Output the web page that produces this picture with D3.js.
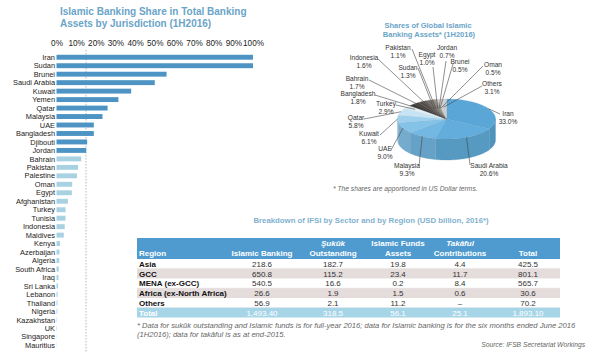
<!DOCTYPE html>
<html><head><meta charset="utf-8">
<script src="https://cdn.jsdelivr.net/npm/d3@7"></script>
<style>html,body{margin:0;padding:0;background:#fff}svg{display:block;font-family:"Liberation Sans",Arial,sans-serif}</style>
</head><body><svg id="c" width="598" height="355"></svg>
<script>
// ---------- data ----------
const barCountries = ["Iran","Sudan","Brunei","Saudi Arabia","Kuwait","Yemen","Qatar","Malaysia","UAE","Bangladesh","Djibouti","Jordan","Bahrain","Pakistan","Palestine","Oman","Egypt","Afghanistan","Turkey","Tunisia","Indonesia","Maldives","Kenya","Azerbaijan","Algeria","South Africa","Iraq","Sri Lanka","Lebanon","Thailand","Nigeria","Kazakhstan","UK","Singapore","Mauritius"];
const barShares = [100,100,56,50,38,31.5,26,23.4,19,19,15.6,15.1,12.6,11,10.4,8,7.8,5.8,4.6,4.6,4.2,3.7,1.8,1.5,1.4,1.2,1.0,0.8,0.6,0.5,0.4,0.2,0.2,0.1,0.1];
const barTicks = [0,10,20,30,40,50,60,70,80,90,100];
const threshold = 15;

const pieLabels = ["Iran","Saudi Arabia","Malaysia","UAE","Kuwait","Qatar","Turkey","Bangladesh","Bahrain","Indonesia","Sudan","Pakistan","Egypt","Jordan","Brunei","Oman","Others"];
const pieShares = [33.0,20.6,9.3,9.0,6.1,5.8,2.9,1.8,1.7,1.6,1.3,1.1,1.0,0.7,0.5,0.5,3.1];

const tableRegions = ["Asia","GCC","MENA (ex-GCC)","Africa (ex-North Africa)","Others","Total"];
const colBanking = ["218.6","650.8","540.5","26.6","56.9","1,493.40"];
const colSukuk = ["182.7","115.2","16.6","1.9","2.1","318.5"];
const colFunds = ["19.8","23.4","0.2","1.5","11.2","56.1"];
const colTakaful = ["4.4","11.7","8.4","0.6","–","25.1"];
const colTotal = ["425.5","801.1","565.7","30.6","70.2","1,893.10"];

// ---------- layout ----------
const svg = d3.select("#c");
const titleBlue = "#6aa4c8";

// ===== Bar chart =====
svg.append("text").attr("x",60).attr("y",15).attr("font-size",10).attr("font-weight","bold").attr("fill",titleBlue).text("Islamic Banking Share in Total Banking");
svg.append("text").attr("x",60).attr("y",27).attr("font-size",10).attr("font-weight","bold").attr("fill",titleBlue).text("Assets by Jurisdiction (1H2016)");

const x = d3.scaleLinear().domain([0,100]).range([56.5,253]);
const y = d3.scaleBand().domain(barCountries).range([53,349.5]).paddingInner(0.42).paddingOuter(0.21);

const axis = d3.axisTop(x).tickValues(barTicks).tickSize(0).tickPadding(3).tickFormat(d=>d+"%");
const ax = svg.append("g").attr("transform","translate(0,48.5)").call(axis);
ax.select(".domain").remove();
ax.selectAll("text").attr("font-size",8.2).attr("fill","#222").attr("font-family","Liberation Sans, Arial, sans-serif");

svg.append("line").attr("x1",x(threshold)).attr("x2",x(threshold)).attr("y1",50).attr("y2",353)
  .attr("stroke","#9a9a9a").attr("stroke-width",0.7).attr("stroke-dasharray","1.5,1.5");

svg.append("g").selectAll("rect").data(barCountries).join("rect")
  .attr("x",x(0)).attr("y",d=>y(d)).attr("height",y.bandwidth())
  .attr("width",(d,i)=>x(barShares[i])-x(0))
  .attr("fill",(d,i)=>barShares[i]>=threshold?"#4d94c4":"#a8d2e2");

svg.append("g").selectAll("text").data(barCountries).join("text")
  .attr("x",55).attr("y",d=>y(d)+y.bandwidth()/2).attr("dy","0.36em")
  .attr("text-anchor","end").attr("font-size",7.4).attr("fill","#222").text(d=>d);

// ===== Pie chart =====
svg.append("text").attr("x",428).attr("y",28).attr("text-anchor","middle").attr("font-size",7.5).attr("font-weight","bold").attr("fill",titleBlue).text("Shares of Global Islamic");
svg.append("text").attr("x",429).attr("y",36.5).attr("text-anchor","middle").attr("font-size",7.5).attr("font-weight","bold").attr("fill",titleBlue).text("Banking Assets* (1H2016)");

const pieColors = ["#5aa6d6","#62addb","#73b8e2","#84c2e7","#9ecfec","#c6e4f3","#e2eff6","#3b3734","#48433f","#55504c","#625d58","#706a65","#7e7872","#8d8680","#9c968f","#aca6a0","#cfcfcf"];
const cx = 446.5, cy = 119, rx = 49, ry = 20, depth = 21;
const pie = d3.pie().sort(null).value(d=>d).startAngle(0).endAngle(2*Math.PI);
const arcs = pie(pieShares);
const pt = (a,dz=0,f=1)=>[cx+rx*f*Math.sin(a), cy-ry*f*Math.cos(a)+dz];
const line = d3.line();
function rimPts(a0,a1,dz){const n=Math.max(2,Math.ceil((a1-a0)/0.03));return d3.range(n+1).map(k=>pt(a0+(a1-a0)*k/n,dz));}
const gPie = svg.append("g");
// sides
arcs.forEach((a,i)=>{
  const s=Math.max(a.startAngle,Math.PI/2), e=Math.min(a.endAngle,3*Math.PI/2);
  if(e>s){
    const top=rimPts(s,e,0), bot=rimPts(s,e,depth).reverse();
    gPie.append("path").attr("d",line(top.concat(bot))+"Z")
      .attr("fill",d3.color(pieColors[i]).darker(0.35)).attr("stroke",d3.color(pieColors[i]).darker(0.45)).attr("stroke-width",0.3);
  }
});
// tops
arcs.forEach((a,i)=>{
  const p=[[cx,cy]].concat(rimPts(a.startAngle,a.endAngle,0));
  gPie.append("path").attr("d",line(p)+"Z").attr("fill",pieColors[i])
    .attr("stroke",d3.color(pieColors[i]).darker(0.2)).attr("stroke-width",0.3);
});
// labels: text position and leader start, leader ends on slice at fraction f
const labLayout = [
  {tx:508,ty:116,lx:500,ly:114,f:1.0},
  {tx:489,ty:168,lx:470,ly:165,f:1.0},
  {tx:407,ty:168,lx:419,ly:166,f:1.0},
  {tx:385,ty:151,lx:391,ly:150,f:1.0},
  {tx:369,ty:136,lx:380,ly:135,f:1.0},
  {tx:356,ty:120,lx:364,ly:119,f:1.0},
  {tx:386,ty:106,lx:396,ly:105,f:0.8},
  {tx:358,ty:96,lx:375,ly:95,f:0.55},
  {tx:357,ty:81,lx:369,ly:80,f:0.55},
  {tx:364,ty:60,lx:378,ly:59,f:0.55},
  {tx:408,ty:70,lx:418,ly:68,f:0.55},
  {tx:398,ty:50,lx:412,ly:49,f:0.55},
  {tx:427,ty:57,lx:433,ly:67,f:0.55},
  {tx:447,ty:50,lx:446,ly:61,f:0.55},
  {tx:460,ty:64,lx:453,ly:64,f:0.55},
  {tx:493,ty:67,lx:483,ly:66,f:0.55},
  {tx:492,ty:86,lx:482,ly:86,f:0.6}
];
const gLab = svg.append("g");
arcs.forEach((a,i)=>{
  const L=labLayout[i], mid=(a.startAngle+a.endAngle)/2;
  const end=pt(mid,0,L.f);
  gLab.append("line").attr("x1",L.lx).attr("y1",L.ly).attr("x2",end[0]).attr("y2",end[1]).attr("stroke","#444").attr("stroke-width",0.6);
  gLab.append("text").attr("x",L.tx).attr("y",L.ty).attr("text-anchor","middle").attr("font-size",6.6).attr("fill","#333").text(pieLabels[i]);
  gLab.append("text").attr("x",L.tx).attr("y",L.ty+8).attr("text-anchor","middle").attr("font-size",6.6).attr("fill","#333").text(pieShares[i].toFixed(1)+"%");
});
svg.append("text").attr("x",333).attr("y",191).attr("font-size",6.7).attr("font-style","italic").attr("fill","#666").text("* The shares are apportioned in US Dollar terms.");

// ===== Table =====
svg.append("text").attr("x",371).attr("y",223).attr("text-anchor","middle").attr("font-size",7.8).attr("font-weight","bold").attr("fill","#7fb1cf").text("Breakdown of IFSI by Sector and by Region (USD billion, 2016*)");
const tX0 = 137, tX1 = 560;
svg.append("rect").attr("x",tX0).attr("y",238).attr("width",tX1-tX0).attr("height",21).attr("fill","#4f9bd0");
const colCenters = [262,333,398,460,528];
const hdr1 = [null,"Şukūk","Islamic Funds","Takāful",null];
const hdr2 = ["Islamic Banking","Outstanding","Assets","Contributions","Total"];
const hdrItalic = [false,true,false,true,false];
const th = svg.append("g").attr("font-size",8).attr("font-weight","bold").attr("fill","#fff");
th.append("text").attr("x",tX0+2).attr("y",256).text("Region");
colCenters.forEach((c,j)=>{
  if(hdr1[j]) th.append("text").attr("x",c).attr("y",246).attr("text-anchor","middle").attr("font-style",hdrItalic[j]?"italic":"normal").text(hdr1[j]);
  th.append("text").attr("x",c).attr("y",256).attr("text-anchor","middle").text(hdr2[j]);
});
const ry2 = d3.scaleBand().domain(tableRegions).range([259,317.5]);
const rows = svg.append("g");
tableRegions.forEach((r,i)=>{
  const fill = i===5?"#a7d5e8":(i%2===1?"#e5dcdc":"#ffffff");
  rows.append("rect").attr("x",tX0).attr("y",ry2(r)).attr("width",tX1-tX0).attr("height",ry2.bandwidth()).attr("fill",fill);
  if(i<5) rows.append("line").attr("x1",tX0).attr("x2",tX1).attr("y1",ry2(r)+ry2.bandwidth()).attr("y2",ry2(r)+ry2.bandwidth()).attr("stroke","#d8d0d0").attr("stroke-width",0.5);
  const by = ry2(r)+ry2.bandwidth()/2+3;
  const txtFill = i===5?"#ffffff":"#111";
  rows.append("text").attr("x",tX0+2).attr("y",by).attr("font-size",8).attr("font-weight","bold").attr("fill",txtFill).text(r);
  [colBanking,colSukuk,colFunds,colTakaful,colTotal].forEach((col,j)=>{
    rows.append("text").attr("x",colCenters[j]).attr("y",by).attr("text-anchor","middle").attr("font-size",8).attr("fill",i===5?"#ffffff":"#333").text(col[i]);
  });
});
const fn = svg.append("g").attr("font-style","italic").attr("fill","#666");
fn.append("text").attr("x",tX0).attr("y",328).attr("font-size",7.6).text("* Data for sukūk outstanding and Islamic funds is for full-year 2016; data for Islamic banking is for the six months ended June 2016");
fn.append("text").attr("x",tX0).attr("y",337).attr("font-size",7.6).text("(1H2016); data for  takāful is as at end-2015.");
fn.append("text").attr("x",585).attr("y",347).attr("font-size",6.7).attr("text-anchor","end").text("Source: IFSB Secretariat Workings");
</script></body></html>
